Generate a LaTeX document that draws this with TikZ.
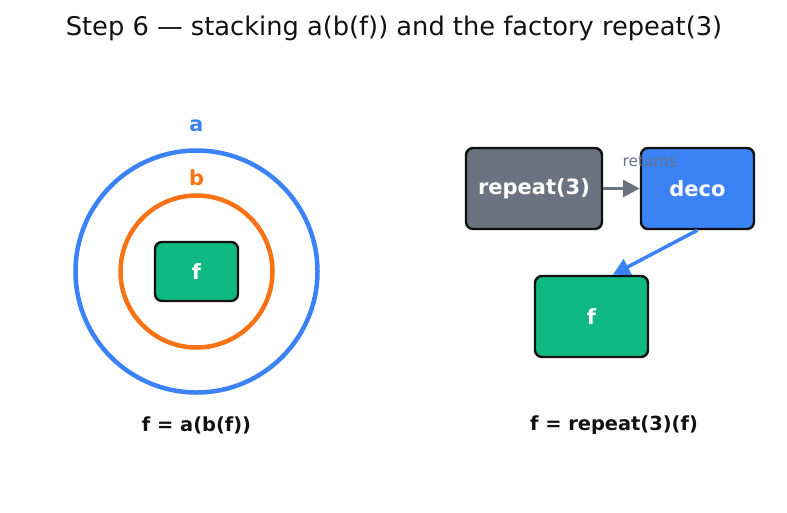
\documentclass[tikz,border=0pt]{standalone}
\usepackage{fontspec}
\setmainfont{DejaVu Sans}
\usepackage{tikz}
\usetikzlibrary{arrows.meta}
\usepackage{xcolor}

\definecolor{slate}{HTML}{6B7280}
\definecolor{emerald}{HTML}{10B981}
\definecolor{azure}{HTML}{3B82F6}
\definecolor{tangerine}{HTML}{F97316}
\definecolor{ink}{HTML}{111111}

\tikzset{
  fnbox/.style={draw=ink, line width=2.4pt, rounded corners=7pt, inner sep=0pt,
    text=white, font=\fontsize{21}{24}\selectfont\bfseries},
  ring/.style={circle, line width=4.5pt, inner sep=0pt},
  caption/.style={text=ink, font=\fontsize{19.4}{23}\selectfont\bfseries},
  flow/.style={line width=3.5pt, -{Triangle[length=17pt,width=17pt]}}
}

\begin{document}
\begin{tikzpicture}[x=1pt,y=-1pt]
      \useasboundingbox (0,0) rectangle (787,512);
      \node[text=ink, font=\fontsize{25.7}{30}\selectfont] (title) at (394,28)
        {Step 6 — stacking a(b(f)) and the factory repeat(3)};
      % left: nested decorators
      \node[ring, draw=azure, minimum size=242pt] (ringa) at (196.5,271.5) {};
      \node[ring, draw=tangerine, minimum size=152pt] (ringb) at (196.5,271.5) {};
      \node[fnbox, fill=emerald, minimum width=83pt, minimum height=59pt] (f) at (196.5,271.5) {f};
      \node[text=azure, font=\fontsize{20.8}{24}\selectfont\bfseries] (la) at (196.5,126) {a};
      \node[text=tangerine, font=\fontsize{20.8}{24}\selectfont\bfseries] (lb) at (196.5,178) {b};
      \node[caption] (capl) at (196.5,425) {f = a(b(f))};
      % right: the factory
      \node[fnbox, fill=slate, minimum width=136pt, minimum height=81pt] (rep) at (534,188.5) {repeat(3)};
      \node[fnbox, fill=azure, minimum width=113pt, minimum height=81pt] (deco) at (697.5,188.5) {deco};
      \node[fnbox, fill=emerald, minimum width=113pt, minimum height=81pt] (fr) at (591.5,316.5) {f};
      \draw[flow, draw=slate, fill=slate] (rep.east) -- (deco.west);
      \draw[flow, draw=azure, fill=azure] (deco.south) -- (fr.63);
      \node[text=slate, font=\fontsize{15.3}{18}\selectfont] (ret) at (650,161) {returns};
      \node[caption] (capr) at (614,425) {f = repeat(3)(f)};
\end{tikzpicture}
\end{document}
